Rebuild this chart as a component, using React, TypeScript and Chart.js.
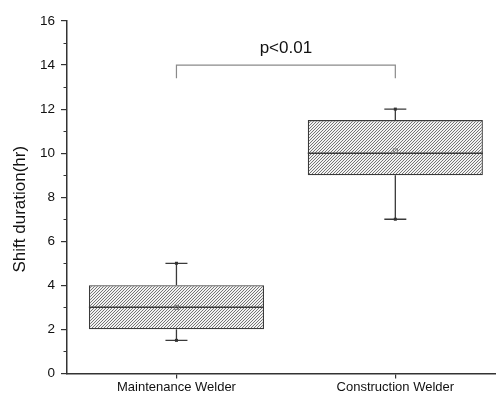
import React, { useEffect, useRef } from "react";
import { Chart, registerables } from "chart.js";

Chart.register(...registerables);

const categories = ["Maintenance Welder", "Construction Welder"];
const whiskerLow = [1.5, 7];
const q1 = [2, 9];
const medians = [3, 10];
const q3 = [4, 11.5];
const whiskerHigh = [5, 12];
const means = [3, 10.1];
const yMajorTicks = [0, 2, 4, 6, 8, 10, 12, 14, 16];
const yMinorTicks = [1, 3, 5, 7, 9, 11, 13, 15];
const yTitle = "Shift duration(hr)";
const significanceText = "p<0.01";
const bracketTop = 14;
const bracketBottom = 13.4;
const significanceTextY = 14.55;

const FONT = "'Liberation Sans', Arial, sans-serif";

function makePattern(): CanvasPattern | string {
  const c = document.createElement("canvas");
  const s = 3;
  c.width = s;
  c.height = s;
  const g = c.getContext("2d");
  if (!g) return "#ccc";
  g.fillStyle = "#f2f2f2";
  g.fillRect(0, 0, s, s);
  g.strokeStyle = "#666";
  g.lineWidth = 0.9;
  g.beginPath();
  g.moveTo(-1, s + 1);
  g.lineTo(s + 1, -1);
  g.moveTo(-1, 1);
  g.lineTo(1, -1);
  g.moveTo(s - 1, s + 1);
  g.lineTo(s + 1, s - 1);
  g.stroke();
  const p = g.createPattern(c, "repeat");
  return p || "#ccc";
}

const boxPlugin = {
  id: "boxExtras",
  afterDatasetsDraw(chart: any) {
    const ctx = chart.ctx;
    const x = chart.scales.x;
    const y = chart.scales.y;
    const meta = chart.getDatasetMeta(0);
    ctx.save();
    categories.forEach((_, i) => {
      const cx = x.getPixelForValue(i + 1);
      const bar = meta.data[i];
      const half = bar ? bar.width / 2 : 87;
      ctx.strokeStyle = "#3a3a3a";
      ctx.lineWidth = 1.5;
      ctx.beginPath();
      ctx.moveTo(cx - half, y.getPixelForValue(medians[i]));
      ctx.lineTo(cx + half, y.getPixelForValue(medians[i]));
      ctx.stroke();
      ctx.lineWidth = 1.3;
      ctx.beginPath();
      ctx.moveTo(cx, y.getPixelForValue(q3[i]));
      ctx.lineTo(cx, y.getPixelForValue(whiskerHigh[i]));
      ctx.moveTo(cx, y.getPixelForValue(q1[i]));
      ctx.lineTo(cx, y.getPixelForValue(whiskerLow[i]));
      const capHalf = 11;
      ctx.moveTo(cx - capHalf, y.getPixelForValue(whiskerHigh[i]));
      ctx.lineTo(cx + capHalf, y.getPixelForValue(whiskerHigh[i]));
      ctx.moveTo(cx - capHalf, y.getPixelForValue(whiskerLow[i]));
      ctx.lineTo(cx + capHalf, y.getPixelForValue(whiskerLow[i]));
      ctx.stroke();
      ctx.fillStyle = "#333";
      [whiskerHigh[i], whiskerLow[i]].forEach((v) => {
        ctx.fillRect(cx - 1.5, y.getPixelForValue(v) - 1.5, 3, 3);
      });
      ctx.strokeStyle = "#777";
      ctx.lineWidth = 1;
      const my = y.getPixelForValue(means[i]);
      ctx.strokeRect(cx - 2, my - 2, 4, 4);
    });
    const x1 = x.getPixelForValue(1);
    const x2 = x.getPixelForValue(2);
    const yt = y.getPixelForValue(bracketTop);
    const yb = y.getPixelForValue(bracketBottom);
    ctx.strokeStyle = "#8a8a8a";
    ctx.lineWidth = 1.2;
    ctx.beginPath();
    ctx.moveTo(x1, yb);
    ctx.lineTo(x1, yt);
    ctx.lineTo(x2, yt);
    ctx.lineTo(x2, yb);
    ctx.stroke();
    ctx.fillStyle = "#111";
    ctx.font = `17px ${FONT}`;
    ctx.textAlign = "center";
    ctx.textBaseline = "alphabetic";
    ctx.fillText(significanceText, (x1 + x2) / 2, y.getPixelForValue(significanceTextY));
    // minor y ticks
    ctx.strokeStyle = "#333";
    ctx.lineWidth = 1.2;
    ctx.beginPath();
    yMinorTicks.forEach((v) => {
      const py = Math.round(y.getPixelForValue(v)) + 0.5;
      ctx.moveTo(chart.chartArea.left - 3.5, py);
      ctx.lineTo(chart.chartArea.left, py);
    });
    ctx.stroke();
    // y title
    ctx.save();
    ctx.translate(20, (chart.chartArea.top + chart.chartArea.bottom) / 2 + 12);
    ctx.rotate(-Math.PI / 2);
    ctx.fillStyle = "#111";
    ctx.font = `17px ${FONT}`;
    ctx.textAlign = "center";
    ctx.textBaseline = "middle";
    ctx.fillText(yTitle, 0, 0);
    ctx.restore();
    ctx.restore();
  },
};

export default function App() {
  const ref = useRef<HTMLCanvasElement>(null);
  useEffect(() => {
    if (!ref.current) return;
    const pattern = makePattern();
    const chart = new Chart(ref.current, {
      type: "bar",
      data: {
        datasets: [
          {
            data: categories.map((_, i) => ({ x: i + 1, y: [q1[i], q3[i]] })) as any,
            backgroundColor: pattern as any,
            borderColor: "#3a3a3a",
            borderWidth: 1.3,
            borderSkipped: false,
            barPercentage: 0.8,
            categoryPercentage: 1,
          },
        ],
      },
      options: {
        animation: false,
        responsive: false,
        devicePixelRatio: 1,
        layout: { padding: { top: 21, left: 34, right: 0, bottom: 2 } },
        plugins: { legend: { display: false }, tooltip: { enabled: false } },
        scales: {
          x: {
            type: "linear",
            offset: false,
            min: 0.5,
            max: 2.46,
            afterBuildTicks: (scale: any) => {
              scale.ticks = categories.map((_, i) => ({ value: i + 1 }));
            },
            ticks: {
              callback: (v: any) => categories[Number(v) - 1] ?? "",
              color: "#111",
              font: { family: FONT, size: 13 },
              padding: 1,
              maxRotation: 0,
              autoSkip: false,
            },
            grid: {
              display: true,
              offset: false,
              drawOnChartArea: false,
              drawTicks: true,
              tickLength: 5,
              color: "#333",
              lineWidth: 1.2,
            },
            border: { display: true, color: "#333", width: 1.5 },
          },
          y: {
            min: 0,
            max: 16,
            afterBuildTicks: (scale: any) => {
              scale.ticks = yMajorTicks.map((v) => ({ value: v }));
            },
            ticks: {
              color: "#111",
              font: { family: FONT, size: 13.5 },
              padding: 6,
            },
            grid: {
              display: true,
              drawOnChartArea: false,
              drawTicks: true,
              tickLength: 6,
              color: "#333",
              lineWidth: 1.2,
            },
            border: { display: true, color: "#333", width: 1.5 },
          },
        },
      },
      plugins: [boxPlugin],
    });
    return () => chart.destroy();
  }, []);
  return (
    <div style={{ position: "fixed", left: 0, top: 0, width: 496, height: 398, background: "#fff" }}>
      <canvas ref={ref} width={496} height={398} />
    </div>
  );
}
